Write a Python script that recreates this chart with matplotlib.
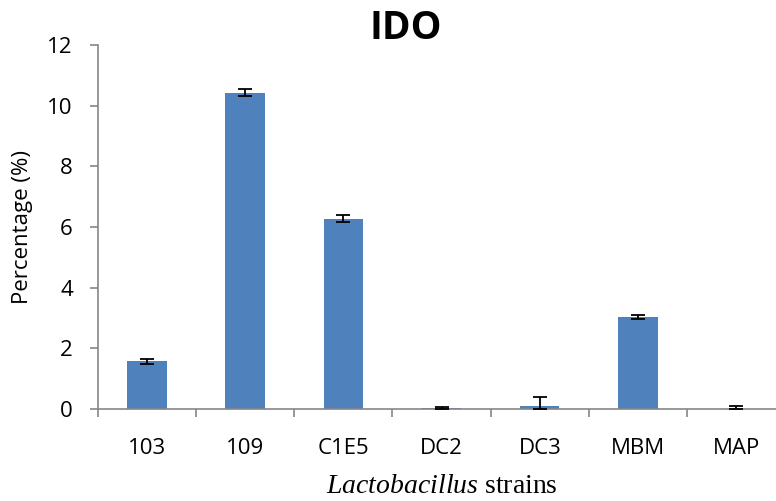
import numpy as np
import matplotlib.pyplot as plt

strains = ["103", "109", "C1E5", "DC2", "DC3", "MBM", "MAP"]
pct = [1.57, 10.43, 6.27, 0.02, 0.10, 3.03, 0.01]
err = [0.08, 0.12, 0.12, 0.05, 0.30, 0.08, 0.08]

plt.rcParams['font.family'] = ['Open Sans', 'DejaVu Sans']
plt.rcParams['mathtext.fontset'] = 'custom'
plt.rcParams['mathtext.it'] = 'Liberation Serif:italic'
plt.rcParams['mathtext.rm'] = 'Liberation Serif'
grey = '#868686'

fig = plt.figure(figsize=(7.76, 5.01), dpi=100)
# axis runs past the right edge, like the original
ax = fig.add_axes([0.126, 0.184, 0.886, 0.726])

x = np.arange(len(strains))
lower = [min(e, v) for e, v in zip(err, pct)]
ax.bar(x, pct, width=0.4, color='#4F81BD', zorder=2)
ax.errorbar(x, pct, yerr=[lower, err], fmt='none', ecolor='black',
            elinewidth=1.3, capsize=5, capthick=1.3, zorder=3)

ax.set_xlim(-0.5, len(strains) - 0.5)
ax.set_ylim(0, 12)
ax.set_yticks(range(0, 13, 2))
ax.set_xticks(x)
ax.set_xticklabels(strains, fontsize=16)
ax.set_xticks(np.arange(-0.5, len(strains)), minor=True)
ax.tick_params(axis='x', which='major', length=0, pad=21)
ax.tick_params(axis='x', which='minor', length=6, color=grey, width=1.2)
ax.tick_params(axis='y', labelsize=16, length=6, color=grey, width=1.2, pad=12)

for s in ['top', 'right']:
    ax.spines[s].set_visible(False)
for s in ['left', 'bottom']:
    ax.spines[s].set_color(grey)
    ax.spines[s].set_linewidth(1.2)

ax.set_ylabel("Percentage (%)", fontsize=16, labelpad=10)
ax.set_xlabel(r"$\mathit{Lactobacillus}$ strains", fontsize=20,
              family='Liberation Serif', labelpad=11)
fig.text(0.523, 0.943, "IDO", fontsize=28, fontweight='bold',
         ha='center', va='center')

fig.savefig("out.png", dpi=100)
